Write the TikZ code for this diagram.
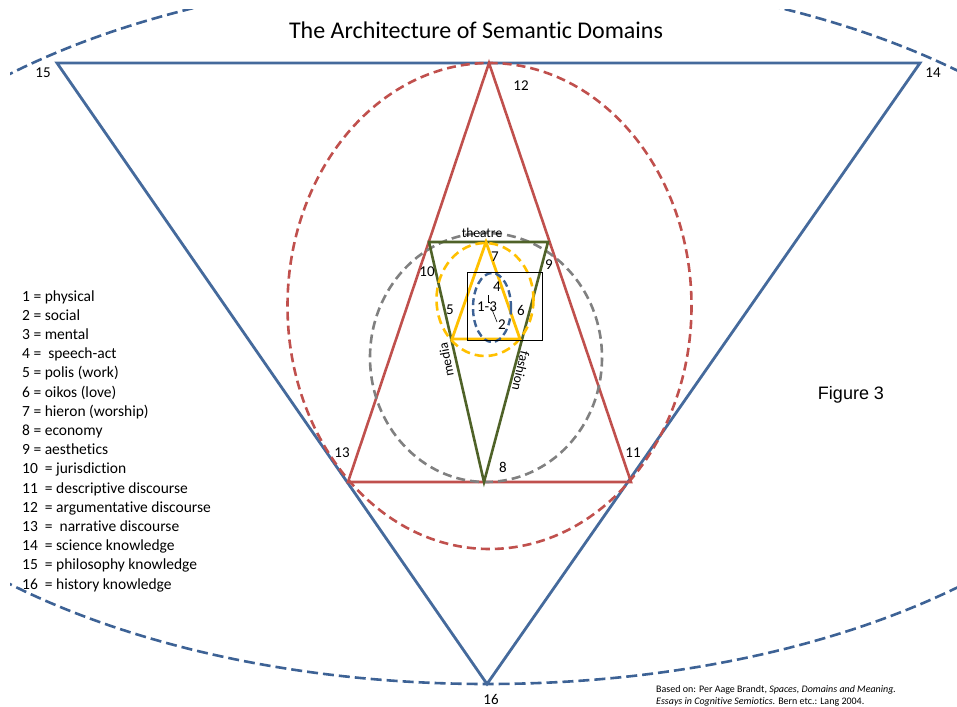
\documentclass[tikz,border=0pt]{standalone}
\usepackage{fontspec}
\setmainfont{Carlito}[Ligatures={NoCommon,NoContextual}]
\newfontfamily\arialfont{Liberation Sans}
\usetikzlibrary{calc}
\definecolor{knowblue}{HTML}{456A9C}
\definecolor{ringblue}{HTML}{3D6295}
\definecolor{discred}{HTML}{C0504D}
\definecolor{instgreen}{HTML}{4F6228}
\definecolor{lifeyellow}{HTML}{FFC000}
\definecolor{ringgray}{HTML}{808080}
\tikzset{
	num/.style={font=\fontsize{15}{18}\selectfont, inner sep=0pt},
	side/.style={font=\fontsize{13.5}{16}\selectfont, inner sep=0pt},
	legend/.style={font=\fontsize{15.5}{19}\selectfont, inner sep=0pt, anchor=base west},
	dashring/.style={line width=2.6pt, dash pattern=on 9pt off 5pt},
}

\begin{document}
\begin{tikzpicture}[x=1pt,y=-1pt]
\useasboundingbox (0,0) rectangle (957,706);
% corners of the triangles
\coordinate (v15) at (57,63);
\coordinate (v14) at (920,63);
\coordinate (v16) at (487,684);
\coordinate (r12) at (489,63);
\coordinate (r13) at (348,482);
\coordinate (r11) at (631,482);
\coordinate (g10) at (429,242);
\coordinate (g9) at (548,242);
\coordinate (g8) at (484,482);
\coordinate (y7) at (486,242);
\coordinate (y5) at (452,339);
\coordinate (y6) at (520,339);
% outer dashed ring
\begin{scope}
\clip (10,10) rectangle (957,706);
\draw[ringblue, dashring, dash pattern=on 11pt off 5pt] (487,329) ellipse (686 and 355);
\end{scope}
\draw[knowblue, line width=2.8pt, line join=miter] (v15) -- (v14) -- (v16) -- cycle;
\draw[discred, dashring] (489.5,306) ellipse (202 and 243);
\draw[discred, line width=2.6pt] (r12) -- (r11) -- (r13) -- cycle;
\draw[ringgray, dashring] (486,357.5) ellipse (116 and 124.5);
\draw[instgreen, line width=2.6pt] (g10) -- (g9) -- (g8) -- cycle;
\draw[lifeyellow, dashring] (485,299.5) ellipse (48.5 and 56.5);
\draw[lifeyellow, line width=2.8pt] (y7) -- (y6) -- (y5) -- cycle;
\draw[ringblue, dashring, line width=2.4pt, dash pattern=on 7pt off 4pt] (492,307.5) ellipse (19 and 34.5);
\draw[black, line width=0.9pt] (467,272) rectangle (542,340);
% title and figure label
\node[font=\fontsize{24}{28}\selectfont] (title) at (476,30) {The Architecture of Semantic Domains};
\node[font=\arialfont\fontsize{18}{22}\selectfont] (fig) at (851,395) {Figure 3};
% numbers
\node[num] (n15) at (43,73) {15};
\node[num] (n14) at (933,73) {14};
\node[num] (n12) at (521,86) {12};
\node[num] (n13) at (342,453) {13};
\node[num] (n11) at (633,453) {11};
\node[num] (n8) at (503,467) {8};
\node[num] (n16) at (491,699) {16};
\node[num] (n10) at (427,272) {10};
\node[num] (n9) at (549,265) {9};
\node[num] (n7) at (495,257) {7};
\node[num] (n4) at (497,287) {4};
\node[num] (n1-3) at (487,307) {1-3};
\node[num] (n2) at (502,325) {2};
\node[num] (n5) at (450,310) {5};
\node[num] (n6) at (521,310) {6};
\draw[line width=0.6pt] (488,295) -- (488,302) -- (490,302);
\draw[line width=0.6pt] (491,307) -- (497,322);
% side labels
\node[side] (theatre) at (482,233) {theatre};
\node[side, rotate=101] (media) at (446,360) {media};
\node[side, rotate=-103] (fashion) at (521,371) {fashion};
% legend
\foreach \txt [count=\i from 0] in {1 = physical, 2 = social, 3 = mental, 4 =\ \ speech-act, 5 = polis (work), 6 = oikos (love), 7 = hieron (worship), 8 = economy, 9 = aesthetics, 10\ \ = jurisdiction, 11\ \ = descriptive discourse, 12\ \ = argumentative discourse, 13\ \ =\ \ narrative discourse, 14\ \ = science knowledge, 15\ \ = philosophy knowledge, 16\ \ = history knowledge}
	\node[legend] (leg\i) at (22,301+19.2*\i) {\txt};
% source
\node[font=\fontsize{10}{12}\selectfont, inner sep=0pt, anchor=base west] (src1) at (656,692) {Based on: Per Aage Brandt, \textit{Spaces, Domains and Meaning.}};
\node[font=\fontsize{10}{12}\selectfont, inner sep=0pt, anchor=base west] (src2) at (656,704) {\textit{Essays in Cognitive Semiotics}. Bern etc.: Lang 2004.};
\end{tikzpicture}
\end{document}
